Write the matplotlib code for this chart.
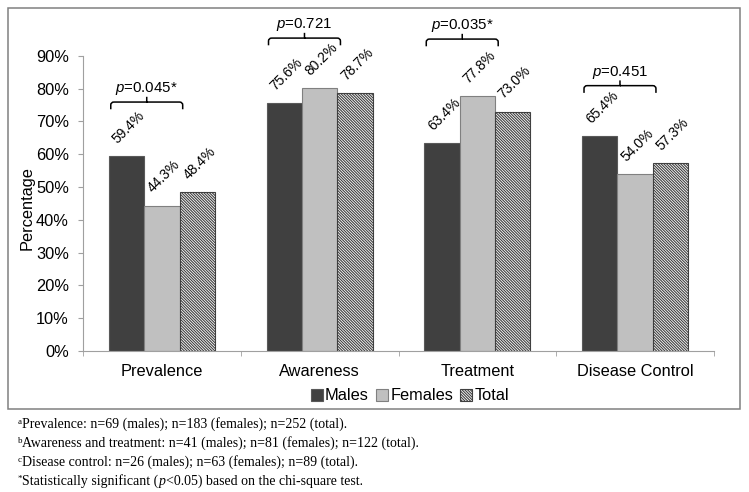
import matplotlib
matplotlib.use("Agg")
import matplotlib.pyplot as plt
from matplotlib.patches import Patch, Rectangle, PathPatch
from matplotlib.path import Path
import numpy as np

plt.rcParams['font.family'] = ['Liberation Sans', 'DejaVu Sans']
plt.rcParams['mathtext.fontset'] = 'custom'
plt.rcParams['mathtext.it'] = 'Liberation Sans:italic'
plt.rcParams['mathtext.rm'] = 'Liberation Sans'
plt.rcParams['hatch.linewidth'] = 0.8

categories = ["Prevalence", "Awareness", "Treatment", "Disease Control"]
series_names = ["Males", "Females", "Total"]
males = [59.4, 75.6, 63.4, 65.4]
females = [44.3, 80.2, 77.8, 54.0]
total = [48.4, 78.7, 73.0, 57.3]
p_labels = ["$p$=0.045*", "$p$=0.721", "$p$=0.035*", "$p$=0.451"]
bracket_levels = [75.9, 95.4, 95.1, 80.9]
yticks = [0, 10, 20, 30, 40, 50, 60, 70, 80, 90]
footnotes = [
    ("a", [("Prevalence: n=69 (males); n=183 (females); n=252 (total).", "normal")]),
    ("b", [("Awareness and treatment: n=41 (males); n=81 (females); n=122 (total).", "normal")]),
    ("c", [("Disease control: n=26 (males); n=63 (females); n=89 (total).", "normal")]),
    ("*", [("Statistically significant (", "normal"), ("p", "italic"),
           ("<0.05) based on the chi-square test.", "normal")]),
]

W, H = 749, 492
fig = plt.figure(figsize=(W / 100, H / 100), dpi=100)
fig.patch.set_facecolor("white")

# chart border
fig.patches.append(Rectangle((7.5 / W, 1 - 408.5 / H), (740 - 7.5) / W, (408.5 - 7.5) / H,
                             transform=fig.transFigure, fill=False,
                             edgecolor="#808080", linewidth=1.1))

ax_l, ax_r, ax_b, ax_t = 83, 714, 351, 8
ax = fig.add_axes([ax_l / W, 1 - ax_b / H, (ax_r - ax_l) / W, (ax_b - ax_t) / H])
px_per_unit = 3.28
ax.set_ylim(0, (ax_b - ax_t) / px_per_unit)
ax.set_xlim(-0.5, len(categories) - 0.5)

w = 0.224
x = np.arange(len(categories))
colors = ["#404040", "#c0c0c0", "white"]
edges = ["#595959", "#808080", "#404040"]
hatches = [None, None, "\\" * 12]
for k, vals in enumerate([males, females, total]):
    xs = x + (k - 1) * w
    ax.bar(xs, vals, width=w, color=colors[k], edgecolor=edges[k],
           linewidth=0.8, hatch=hatches[k], zorder=2)
    for xi, v in zip(xs, vals):
        ax.annotate(f"{v:.1f}%", xy=(xi, v), xytext=(1.5, 29 * 0.72),
                    textcoords="offset points", rotation=45, ha="center",
                    va="center", fontsize=10)

# brackets
rx, ry = 0.02, 0.9
drop, rise = 2.2, 1.6
for i, (lvl, lab) in enumerate(zip(bracket_levels, p_labels)):
    x0 = i - 1.5 * w + 0.012
    x1 = i + 0.5 * w + 0.02
    xc = (x0 + x1) / 2
    verts = [(x0, lvl - drop), (x0, lvl - ry), (x0, lvl), (x0 + rx, lvl),
             (xc, lvl), (xc, lvl + rise), (xc, lvl),
             (x1 - rx, lvl), (x1, lvl), (x1, lvl - ry), (x1, lvl - drop)]
    codes = [Path.MOVETO, Path.LINETO, Path.CURVE3, Path.CURVE3,
             Path.LINETO, Path.LINETO, Path.MOVETO,
             Path.LINETO, Path.CURVE3, Path.CURVE3, Path.LINETO]
    ax.add_patch(PathPatch(Path(verts, codes), fill=False, edgecolor="black",
                           linewidth=1.1, zorder=3))
    ax.text(xc, lvl + 4.0, lab, ha="center", va="center", fontsize=10.8)

# axes styling
for s in ["top", "right"]:
    ax.spines[s].set_visible(False)
ax.spines["left"].set_bounds(0, 90)
ax.spines["left"].set_color("#a0a0a0")
ax.spines["bottom"].set_color("#a0a0a0")
ax.set_yticks(yticks)
ax.set_yticklabels([f"{t}%" for t in yticks], fontsize=11.8)
ax.tick_params(axis="y", length=3.6, color="#a0a0a0", pad=6.5)
ax.set_xticks(x)
ax.set_xticklabels(categories, fontsize=11.8)
ax.tick_params(axis="x", which="major", length=0, pad=9)
ax.set_xticks(np.arange(-0.5, len(categories)), minor=True)
ax.tick_params(axis="x", which="minor", length=3.6, color="#a0a0a0")
ax.set_ylabel("Percentage", fontsize=11.8, va="center")
ax.yaxis.set_label_coords((27 - ax_l) / (ax_r - ax_l), (ax_b - 208) / (ax_b - ax_t))

handles = [Patch(facecolor=colors[k], edgecolor=edges[k], hatch=hatches[k], linewidth=0.8)
           for k in range(3)]
fig.legend(handles, series_names, loc="center", bbox_to_anchor=(410 / W, 1 - 396 / H),
           ncol=3, frameon=False, fontsize=11.8, handlelength=0.7, handleheight=0.7,
           handletextpad=0.15, columnspacing=0.45, borderpad=0)

# footnotes
renderer = fig.canvas.get_renderer()
serif = ["Liberation Serif", "DejaVu Serif"]
base_y = [428, 447, 466, 485]
for (sup, pieces), by in zip(footnotes, base_y):
    xp = 17.5
    t = fig.text(xp / W, 1 - (by - 4) / H, sup, fontsize=6.5, family=serif, va="baseline")
    xp += t.get_window_extent(renderer).width + 0.5
    for s, st in pieces:
        t = fig.text(xp / W, 1 - by / H, s, fontsize=10, family=serif, style=st, va="baseline")
        xp += t.get_window_extent(renderer).width

fig.savefig("out.png", dpi=100)
